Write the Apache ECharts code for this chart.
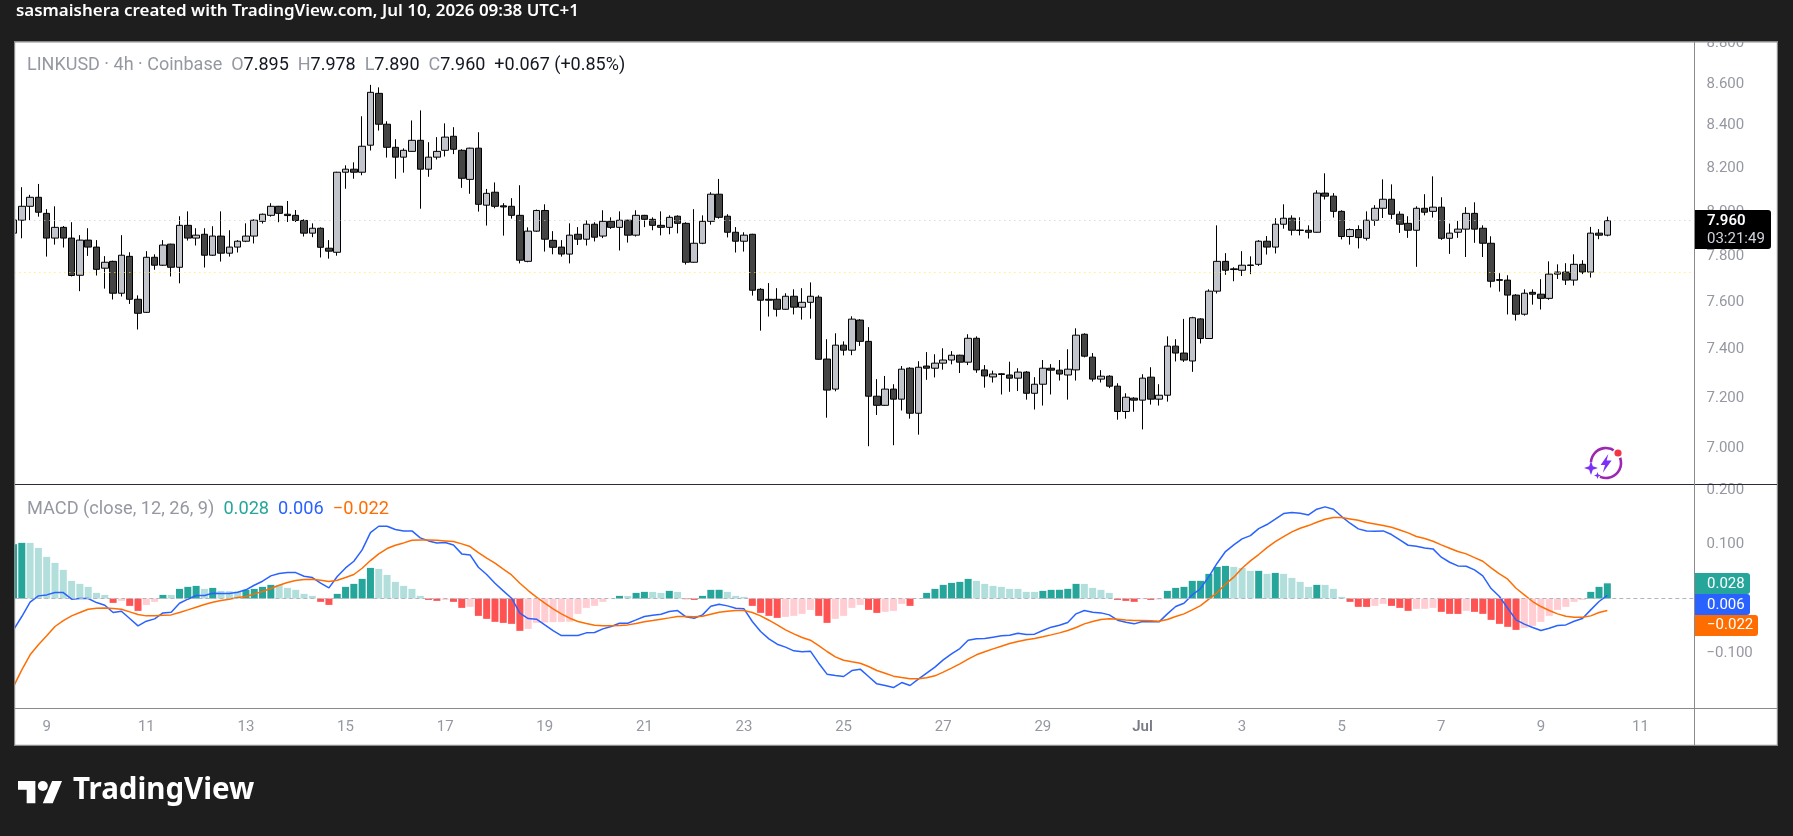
<!DOCTYPE html>
<html>
<head>
<meta charset="utf-8">
<title>LINKUSD 4h</title>
<script src="https://cdn.jsdelivr.net/npm/echarts@6/dist/echarts.min.js"></script>
<style>html,body{margin:0;padding:0;background:#1e1e1e}#chart{width:1793px;height:836px}</style>
</head>
<body>
<div id="chart"></div>
<script>
// 4h candles, oldest first
const opens = [7.904,7.962,8.025,8.066,7.993,7.882,7.930,7.882,7.718,7.873,
7.842,7.749,7.779,7.640,7.801,7.614,7.558,7.797,7.762,7.855,
7.753,7.939,7.882,7.899,7.806,7.891,7.815,7.842,7.868,7.891,
7.957,7.984,8.025,7.989,7.984,7.961,7.904,7.926,7.837,7.819,
8.181,8.195,8.181,8.307,8.554,8.406,8.297,8.251,8.278,8.330,
8.195,8.251,8.283,8.349,8.283,8.148,8.293,8.030,8.089,8.027,
8.025,7.984,7.779,7.913,8.006,7.872,7.842,7.811,7.899,7.877,
7.944,7.891,7.957,7.930,7.962,7.895,7.984,7.966,7.939,7.930,
7.980,7.948,7.775,7.859,7.957,8.080,7.980,7.908,7.868,7.899,
7.657,7.614,7.614,7.571,7.627,7.580,7.601,7.623,7.361,7.237,
7.419,7.398,7.525,7.435,7.208,7.171,7.237,7.196,7.323,7.139,
7.332,7.323,7.344,7.357,7.377,7.348,7.448,7.316,7.287,7.300,
7.295,7.282,7.307,7.220,7.257,7.323,7.315,7.295,7.316,7.465,
7.369,7.278,7.290,7.249,7.146,7.200,7.192,7.286,7.196,7.212,
7.415,7.386,7.353,7.530,7.447,7.649,7.779,7.746,7.740,7.763,
7.766,7.868,7.842,7.944,7.971,7.918,7.917,7.908,8.085,8.071,
8.002,7.889,7.920,7.881,7.962,8.016,8.057,7.989,7.948,7.917,
8.016,8.002,8.021,7.881,7.908,7.922,7.993,7.926,7.859,7.699,
7.697,7.632,7.550,7.644,7.636,7.618,7.723,7.732,7.697,7.766,
7.732,7.904,7.895];
const highs = [7.966,8.112,8.077,8.127,8.012,8.025,7.936,7.953,7.895,7.926,
7.873,7.802,7.782,7.895,7.819,7.631,7.824,7.810,7.873,7.857,
7.980,8.002,7.926,7.926,7.935,8.002,7.917,7.873,7.948,7.966,
7.992,8.039,8.027,8.049,8.008,7.966,7.948,7.930,7.873,8.183,
8.213,8.227,8.444,8.595,8.583,8.420,8.335,8.292,8.424,8.472,
8.321,8.345,8.410,8.392,8.288,8.295,8.368,8.104,8.134,8.039,
8.062,8.121,7.930,8.010,8.034,7.913,7.873,7.948,7.931,7.961,
7.953,8.007,7.975,8.002,7.964,8.007,7.986,7.975,8.002,7.984,
7.984,7.953,8.012,7.984,8.089,8.150,7.989,7.931,7.908,7.901,
7.662,7.684,7.662,7.640,7.657,7.662,7.687,7.631,7.444,7.469,
7.435,7.541,7.529,7.495,7.278,7.291,7.257,7.332,7.327,7.352,
7.390,7.381,7.406,7.394,7.379,7.465,7.456,7.336,7.313,7.303,
7.350,7.323,7.311,7.286,7.357,7.340,7.357,7.402,7.490,7.469,
7.386,7.315,7.294,7.261,7.220,7.204,7.298,7.327,7.257,7.456,
7.444,7.530,7.539,7.533,7.657,7.939,7.815,7.753,7.824,7.801,
7.873,7.891,7.971,8.034,7.984,7.975,7.939,8.098,8.176,8.085,
8.007,7.925,7.939,8.002,8.030,8.148,8.125,8.002,7.980,8.025,
8.080,8.162,8.066,7.947,7.959,8.021,8.043,7.939,7.890,7.727,
7.718,7.636,7.657,7.657,7.701,7.779,7.766,7.771,7.810,7.784,
7.932,7.922,7.978];
const lows = [7.901,7.881,7.963,7.978,7.800,7.853,7.840,7.713,7.649,7.803,
7.717,7.660,7.613,7.626,7.594,7.485,7.556,7.742,7.759,7.713,
7.683,7.871,7.849,7.752,7.803,7.778,7.800,7.818,7.864,7.858,
7.947,7.978,7.953,7.954,7.954,7.889,7.886,7.796,7.791,7.804,
8.105,8.151,8.167,8.282,8.376,8.249,8.151,8.179,8.276,8.014,
8.160,8.240,8.254,8.265,8.109,8.082,8.001,7.938,8.016,7.893,
7.969,7.770,7.775,7.910,7.822,7.810,7.800,7.770,7.851,7.849,
7.867,7.882,7.923,7.827,7.862,7.889,7.931,7.917,7.894,7.899,
7.903,7.765,7.773,7.855,7.942,7.969,7.885,7.818,7.822,7.630,
7.480,7.540,7.540,7.569,7.549,7.527,7.531,7.358,7.121,7.228,
7.376,7.377,7.416,7.007,7.132,7.169,7.011,7.150,7.117,7.053,
7.275,7.285,7.317,7.339,7.303,7.336,7.304,7.243,7.264,7.215,
7.226,7.229,7.194,7.154,7.170,7.215,7.272,7.194,7.272,7.368,
7.268,7.264,7.241,7.113,7.117,7.145,7.074,7.174,7.170,7.186,
7.351,7.349,7.308,7.426,7.445,7.639,7.720,7.692,7.715,7.723,
7.759,7.809,7.814,7.924,7.894,7.894,7.880,7.906,8.056,7.974,
7.876,7.853,7.836,7.871,7.937,7.972,7.967,7.905,7.883,7.755,
7.984,7.974,7.874,7.812,7.883,7.798,7.861,7.798,7.665,7.647,
7.549,7.523,7.544,7.591,7.570,7.612,7.702,7.676,7.673,7.723,
7.708,7.877,7.890];
const closes = [7.963,8.025,8.066,7.998,7.882,7.930,7.882,7.717,7.873,7.842,
7.744,7.775,7.640,7.806,7.614,7.554,7.797,7.762,7.851,7.753,
7.939,7.882,7.895,7.806,7.891,7.815,7.842,7.868,7.891,7.962,
7.989,8.025,7.993,7.983,7.961,7.904,7.926,7.841,7.824,8.181,
8.195,8.181,8.302,8.559,8.406,8.297,8.251,8.283,8.330,8.195,
8.251,8.278,8.345,8.288,8.153,8.293,8.034,8.084,8.025,8.022,
7.984,7.784,7.913,8.006,7.877,7.841,7.811,7.895,7.877,7.944,
7.886,7.957,7.930,7.962,7.895,7.984,7.966,7.939,7.930,7.975,
7.948,7.775,7.859,7.957,8.080,7.975,7.908,7.868,7.895,7.653,
7.610,7.610,7.571,7.627,7.580,7.601,7.627,7.360,7.233,7.419,
7.398,7.529,7.435,7.208,7.171,7.237,7.196,7.319,7.139,7.327,
7.323,7.344,7.357,7.377,7.348,7.448,7.316,7.291,7.299,7.297,
7.282,7.307,7.220,7.257,7.323,7.315,7.299,7.319,7.461,7.373,
7.278,7.290,7.249,7.146,7.204,7.192,7.282,7.196,7.212,7.415,
7.386,7.357,7.535,7.447,7.649,7.779,7.740,7.743,7.762,7.761,
7.868,7.842,7.944,7.971,7.917,7.916,7.908,8.085,8.071,8.002,
7.889,7.920,7.884,7.962,8.016,8.057,7.989,7.944,7.917,8.016,
7.998,8.021,7.881,7.904,7.922,7.993,7.922,7.859,7.692,7.696,
7.632,7.550,7.640,7.636,7.618,7.723,7.732,7.697,7.766,7.732,
7.904,7.895,7.960];

// MACD (close, 12, 26, 9)
const histogram = [.1000,.1025,.1024,.0932,.0767,.0656,.0528,.0325,.0270,.0215,
.0104,.0067,-.0080,-.0043,-.0135,-.0227,-.0117,-.0061,.0067,.0066,
.0178,.0215,.0233,.0178,.0196,.0141,.0135,.0129,.0160,.0178,
.0215,.0252,.0250,.0196,.0160,.0086,.0049,-.0061,-.0117,.0086,
.0215,.0270,.0362,.0564,.0546,.0435,.0307,.0233,.0178,.0049,
-.0025,-.0043,-.0025,-.0061,-.0172,-.0153,-.0319,-.0374,-.0429,-.0448,
-.0466,-.0595,-.0558,-.0448,-.0440,-.0435,-.0430,-.0427,-.0282,-.0172,
-.0135,-.0061,-.0005,.0049,.0047,.0104,.0123,.0122,.0104,.0141,
.0122,-.0012,-.0025,.0049,.0160,.0161,.0123,.0049,.0031,-.0135,
-.0264,-.0319,-.0356,-.0337,-.0319,-.0282,-.0209,-.0319,-.0448,-.0374,
-.0319,-.0172,-.0117,-.0209,-.0264,-.0245,-.0227,-.0098,-.0135,-.0006,
.0104,.0178,.0252,.0288,.0307,.0362,.0325,.0270,.0233,.0215,
.0178,.0177,.0123,.0122,.0141,.0160,.0161,.0178,.0270,.0269,
.0196,.0160,.0104,-.0025,-.0043,-.0061,-.0012,-.0025,-.0018,.0141,
.0196,.0215,.0325,.0326,.0454,.0583,.0601,.0583,.0564,.0509,
.0510,.0454,.0472,.0454,.0380,.0307,.0215,.0252,.0251,.0178,
.0031,-.0061,-.0153,-.0154,-.0135,-.0098,-.0135,-.0172,-.0227,-.0190,
-.0189,-.0172,-.0245,-.0282,-.0283,-.0227,-.0245,-.0282,-.0393,-.0466,
-.0521,-.0577,-.0540,-.0503,-.0429,-.0319,-.0209,-.0153,-.0061,-.0025,
.0123,.0215,.0280];
const macdLine = [-.0577,-.0331,-.0067,.0049,.0067,.0110,.0110,-.0012,0,0,
-.0074,-.0123,-.0258,-.0233,-.0368,-.0503,-.0417,-.0374,-.0264,-.0251,
-.0086,-.0012,.0055,.0055,.0098,.0092,.0092,.0117,.0160,.0245,
.0319,.0417,.0460,.0478,.0478,.0411,.0386,.0282,.0196,.0405,
.0564,.0687,.0895,.1214,.1331,.1331,.1270,.1245,.1245,.1116,
.1061,.1024,.1030,.0987,.0822,.0803,.0576,.0442,.0282,.0141,
.0006,-.0270,-.0368,-.0380,-.0484,-.0589,-.0681,-.0681,-.0681,-.0632,
-.0626,-.0558,-.0515,-.0454,-.0454,-.0393,-.0331,-.0307,-.0288,-.0239,
-.0221,-.0337,-.0362,-.0301,-.0141,-.0104,-.0135,-.0178,-.0190,-.0423,
-.0607,-.0742,-.0840,-.0895,-.0963,-.0981,-.0969,-.1190,-.1392,-.1417,
-.1435,-.1325,-.1300,-.1435,-.1570,-.1601,-.1638,-.1546,-.1601,-.1484,
-.1374,-.1263,-.1128,-.1018,-.0920,-.0767,-.0742,-.0736,-.0711,-.0687,
-.0675,-.0638,-.0662,-.0656,-.0589,-.0527,-.0491,-.0442,-.0282,-.0221,
-.0251,-.0264,-.0301,-.0399,-.0435,-.0466,-.0423,-.0429,-.0429,-.0282,
-.0147,-.0086,.0067,.0184,.0405,.0650,.0865,.0987,.1098,.1159,
.1288,.1362,.1460,.1564,.1582,.1570,.1539,.1644,.1687,.1644,
.1509,.1386,.1282,.1245,.1239,.1245,.1178,.1079,.0981,.0963,
.0932,.0914,.0761,.0668,.0601,.0595,.0527,.0417,.0184,.0037,
-.0178,-.0393,-.0472,-.0534,-.0589,-.0546,-.0497,-.0485,-.0417,-.0368,
-.0209,-.0055,.0060];
const signalLine = [-.1620,-.1312,-.1036,-.0852,-.0687,-.0515,-.0405,-.0319,-.0258,-.0196,
-.0178,-.0172,-.0184,-.0196,-.0245,-.0294,-.0319,-.0319,-.0307,-.0301,
-.0258,-.0209,-.0159,-.0110,-.0067,-.0037,-.0012,.0018,.0037,.0086,
.0129,.0184,.0245,.0294,.0331,.0350,.0356,.0337,.0313,.0337,
.0386,.0442,.0558,.0699,.0822,.0920,.0981,.1024,.1073,.1079,
.1079,.1073,.1061,.1049,.1006,.0957,.0846,.0742,.0650,.0540,
.0435,.0282,.0147,.0025,-.0086,-.0190,-.0282,-.0362,-.0423,-.0460,
-.0491,-.0503,-.0503,-.0497,-.0485,-.0460,-.0429,-.0405,-.0380,-.0356,
-.0331,-.0331,-.0337,-.0325,-.0288,-.0251,-.0233,-.0221,-.0221,-.0258,
-.0319,-.0399,-.0485,-.0577,-.0650,-.0718,-.0767,-.0865,-.0975,-.1073,
-.1135,-.1165,-.1190,-.1251,-.1325,-.1374,-.1429,-.1454,-.1478,-.1478,
-.1460,-.1423,-.1355,-.1282,-.1202,-.1116,-.1036,-.0981,-.0926,-.0877,
-.0828,-.0791,-.0760,-.0736,-.0705,-.0669,-.0632,-.0589,-.0534,-.0466,
-.0423,-.0386,-.0374,-.0380,-.0393,-.0405,-.0405,-.0411,-.0417,-.0386,
-.0331,-.0282,-.0209,-.0129,-.0012,.0110,.0264,.0393,.0558,.0693,
.0810,.0938,.1049,.1141,.1227,.1294,.1343,.1404,.1460,.1490,
.1490,.1466,.1441,.1398,.1374,.1343,.1312,.1263,.1208,.1141,
.1104,.1055,.0987,.0926,.0865,.0822,.0754,.0687,.0564,.0454,
.0356,.0190,.0067,-.0055,-.0147,-.0221,-.0282,-.0325,-.0343,-.0343,
-.0319,-.0258,-.0220];

// axis ticks and reference levels
const priceTicks = [7.0,7.2,7.4,7.6,7.8,8.0,8.2,8.4,8.6,8.8];
const macdTicks = [-0.1,0.1,0.2];
const dayTickLabels = ['9','11','13','15','17','19','21','23','25','27','29','Jul','3','5','7','9','11'];
const lastPrice = 7.960;
const changeAmount = 0.067;
const changePercent = 0.85;
const yellowLevel = 7.726;
const countdown = '03:21:49';

const BAR_SLOTS = 203;       // candles plus empty space on the right
const FIRST_DAY_TICK = 4;    // slot of the first date label
const DAY_TICK_STEP = 12;    // two days of 4h bars
const slots = Array.from({length: BAR_SLOTS}, (_, i) => String(i));

const FONT = 'Roboto, sans-serif';
const HEAD_FONT = '"Noto Sans", sans-serif';
const GREY = '#9598a1';
const INK = '#131722';
const OHLC_FONT = '18px ' + FONT;
const MACD_FONT = '18.2px ' + FONT;
const AXIS_SIZE = 15;
const TAG_FONT = AXIS_SIZE + 'px ' + FONT;
const fmt = v => v.toFixed(3).replace('-', '\u2212');
const last = a => a[a.length - 1];

// TradingView colouring: strong while the histogram grows in its direction
const histColour = (v, i) => {
  const prev = i ? histogram[i - 1] : -Infinity;
  if (v >= 0) return prev < v ? '#26a69a' : '#b2dfdb';
  return prev < v ? '#ffcdd2' : '#ff5252';
};

const candleData = opens.map((o, i) => [o, closes[i], lows[i], highs[i]]);
const histData = histogram.map((v, i) => ({value: v, itemStyle: {color: histColour(v, i)}}));

const rect = (x, y, w, h, fill, z, r) => ({type: 'rect', z, silent: true, shape: {x, y, width: w, height: h, r: r || 0}, style: {fill}});
const label = (x, y, text, fill, font, z) => ({type: 'text', z, silent: true, style: {x, y, text, fill, font, textVerticalAlign: 'middle'}});
// polygon from glyph coordinates placed at (x, y) with scale s
const glyph = (pts, x, y, s, fill, z) => ({type: 'polygon', z, silent: true, shape: {points: pts.map(p => [x + p[0] * s, y + p[1] * s])}, style: {fill}});
const STAR = [[5,0],[6.3,3.7],[10,5],[6.3,6.3],[5,10],[3.7,6.3],[0,5],[3.7,3.7]];
const BOLT = [[8,0],[1,10],[5,10],[3,17],[11,6],[6.5,6]];
const LOGO_T = [[0,4],[14,4],[14,22],[7,22],[7,11],[0,11]];
const LOGO_V = [[20,22],[27.5,4],[35.5,4],[28,22]];

const richFor = font => ({
  g: {fill: GREY, color: GREY, font},
  d: {fill: INK, color: INK, font},
  h: {fill: '#26a69a', color: '#26a69a', font},
  b: {fill: '#2962ff', color: '#2962ff', font},
  o: {fill: '#ff6d00', color: '#ff6d00', font}
});
const ohlcText = '{g|LINKUSD \u00b7 4h \u00b7 Coinbase}  {g|O}{d|' + last(opens).toFixed(3) + '}  {g|H}{d|' + last(highs).toFixed(3) +
  '}  {g|L}{d|' + last(lows).toFixed(3) + '}  {g|C}{d|' + last(closes).toFixed(3) + '}  {d|+' + changeAmount.toFixed(3) + ' (+' + changePercent.toFixed(2) + '%)}';
const macdText = '{g|MACD (close, 12, 26, 9)}  {h|' + fmt(last(histogram)) + '}  {b|' + fmt(last(macdLine)) + '}  {o|' + fmt(last(signalLine)) + '}';

const graphics = [
  // white panel underneath the plots
  rect(15, 42, 1762, 703, '#ffffff', 0),
  // dark surround over anything reaching past the panel
  rect(0, 0, 1793, 41, '#1e1e1e', 50),
  rect(0, 0, 14, 836, '#1e1e1e', 50),
  rect(1778, 0, 15, 836, '#1e1e1e', 50),
  rect(0, 746, 1793, 90, '#1e1e1e', 50),
  // panel outline and pane dividers
  rect(14, 41, 1764, 1.5, '#8a8a8a', 51),
  rect(14, 41, 1.2, 705, '#8a8a8a', 51),
  rect(1776.8, 41, 1.2, 705, '#8a8a8a', 51),
  rect(14, 744.8, 1764, 1.2, '#8a8a8a', 51),
  rect(15, 484, 1762, 1, '#2a2e39', 51),
  rect(15, 708, 1762, 1, '#8a8a8a', 51),
  rect(1694, 42, 1, 703, '#8a8a8a', 51),
  // header
  label(16, 11.5, 'sasmaishera created with TradingView.com, Jul 10, 2026 09:38 UTC+1', '#ffffff', '600 16.95px ' + HEAD_FONT, 60),
  // legends
  {type: 'text', z: 60, silent: true, style: {x: 27, y: 65.5, text: ohlcText, rich: richFor(OHLC_FONT), font: OHLC_FONT, textVerticalAlign: 'middle'}},
  {type: 'text', z: 60, silent: true, style: {x: 27, y: 509, text: macdText, rich: richFor(MACD_FONT), font: MACD_FONT, textVerticalAlign: 'middle'}},
  // last price tag
  {type: 'rect', z: 60, silent: true, shape: {x: 1695, y: 210, width: 76, height: 39, r: [0, 3, 3, 0]}, style: {fill: '#000000'}},
  label(1707, 221, lastPrice.toFixed(3), '#ffffff', '600 ' + TAG_FONT, 61),
  label(1707, 239, countdown, '#d1d4dc', TAG_FONT, 61),
  // MACD value tags
  {type: 'rect', z: 60, silent: true, shape: {x: 1695, y: 573, width: 55, height: 21, r: [0, 3, 3, 0]}, style: {fill: '#26a69a'}},
  {type: 'rect', z: 60, silent: true, shape: {x: 1695, y: 594, width: 55, height: 21, r: [0, 3, 3, 0]}, style: {fill: '#2962ff'}},
  {type: 'rect', z: 60, silent: true, shape: {x: 1695, y: 615, width: 63, height: 21, r: [0, 3, 3, 0]}, style: {fill: '#ff6d00'}},
  label(1707, 584, fmt(last(histogram)), '#ffffff', TAG_FONT, 61),
  label(1707, 605, fmt(last(macdLine)), '#ffffff', TAG_FONT, 61),
  label(1707, 625.5, fmt(last(signalLine)), '#ffffff', TAG_FONT, 61),
  // spark badge
  {type: 'arc', z: 60, silent: true, shape: {cx: 1606, cy: 463, r: 15, startAngle: 3.0, endAngle: 8.2, clockwise: true}, style: {stroke: '#9c27b0', lineWidth: 2.6, fill: 'none', lineCap: 'round'}},
  glyph(BOLT, 1599.5, 454, 1.1, '#7b2ff7', 61),
  {type: 'circle', z: 61, silent: true, shape: {cx: 1618, cy: 453, r: 5.2}, style: {fill: '#ffffff'}},
  {type: 'circle', z: 62, silent: true, shape: {cx: 1618, cy: 453, r: 3.6}, style: {fill: '#f23645'}},
  {type: 'circle', z: 60.5, silent: true, shape: {cx: 1592, cy: 470, r: 8}, style: {fill: '#ffffff'}},
  glyph(STAR, 1584, 461, 1.4, '#7b2ff7', 61),
  glyph(STAR, 1594, 472, 0.7, '#7b2ff7', 61),
  // footer wordmark
  glyph(LOGO_T, 18, 776, 1.24, '#ffffff', 60),
  glyph(LOGO_V, 18, 776, 1.24, '#ffffff', 60),
  {type: 'circle', z: 60, silent: true, shape: {cx: 42.8, cy: 786, r: 5}, style: {fill: '#ffffff'}},
  label(73, 791, 'TradingView', '#ffffff', '700 29.5px ' + HEAD_FONT, 60)
];

const chart = echarts.init(document.getElementById('chart'), null, {renderer: 'canvas'});
chart.setOption({
  animation: false,
  backgroundColor: '#1e1e1e',
  grid: [
    {left: 9.35, top: 42, width: 1685.15, height: 442},
    {left: 9.35, top: 485, width: 1685.15, height: 223}
  ],
  xAxis: [
    {type: 'category', gridIndex: 0, data: slots, show: false},
    {
      type: 'category', gridIndex: 1, data: slots,
      axisLine: {show: false}, axisTick: {show: false}, splitLine: {show: false},
      axisLabel: {
        margin: 12,
        color: GREY,
        fontFamily: FONT,
        fontSize: AXIS_SIZE,
        interval: i => i >= FIRST_DAY_TICK && (i - FIRST_DAY_TICK) % DAY_TICK_STEP === 0,
        formatter: v => {
          const t = dayTickLabels[(Number(v) - FIRST_DAY_TICK) / DAY_TICK_STEP];
          return t === 'Jul' ? '{month|Jul}' : t;
        },
        rich: {month: {fontFamily: FONT, fontSize: AXIS_SIZE, fontWeight: 600, color: '#787b86'}}
      }
    }
  ],
  yAxis: [
    {
      type: 'log', gridIndex: 0, position: 'right', min: 6.859, max: 8.806,
      axisLine: {show: false}, axisTick: {show: false}, splitLine: {show: false},
      axisLabel: {customValues: priceTicks, margin: 12, color: GREY, fontFamily: FONT, fontSize: AXIS_SIZE, align: 'left',
        formatter: v => Number(v).toFixed(3), showMinLabel: true, showMaxLabel: true}
    },
    {
      type: 'value', gridIndex: 1, position: 'right', min: -0.2015, max: 0.209,
      axisLine: {show: false}, axisTick: {show: false}, splitLine: {show: false},
      axisLabel: {customValues: macdTicks, margin: 12, color: GREY, fontFamily: FONT, fontSize: AXIS_SIZE, align: 'left',
        formatter: v => fmt(Number(v)), showMinLabel: true, showMaxLabel: true}
    }
  ],
  series: [
    {
      name: 'LINKUSD', type: 'candlestick', xAxisIndex: 0, yAxisIndex: 0, data: candleData,
      barWidth: 7,
      itemStyle: {color: '#c3c5cc', color0: '#444444', borderColor: '#000000', borderColor0: '#000000', borderWidth: 1},
      markLine: {
        silent: true, symbol: 'none', label: {show: false}, animation: false,
        data: [
          {yAxis: lastPrice, lineStyle: {color: '#c8c8c8', type: [1, 4], width: 1}},
          {yAxis: yellowLevel, lineStyle: {color: '#ffeb3b', type: [1, 4], width: 1}}
        ]
      }
    },
    {
      name: 'Histogram', type: 'bar', xAxisIndex: 1, yAxisIndex: 1, data: histData, barWidth: 7, z: 2,
      markLine: {
        silent: true, symbol: 'none', label: {show: false}, animation: false,
        data: [{yAxis: 0, lineStyle: {color: '#b2b5be', type: [4, 3], width: 1}}]
      }
    },
    {name: 'MACD', type: 'line', xAxisIndex: 1, yAxisIndex: 1, data: macdLine, showSymbol: false, z: 3, lineStyle: {color: '#2962ff', width: 1.5}},
    {name: 'Signal', type: 'line', xAxisIndex: 1, yAxisIndex: 1, data: signalLine, showSymbol: false, z: 4, lineStyle: {color: '#ff6d00', width: 1.5}}
  ],
  graphic: {elements: graphics}
});
</script>
</body>
</html>
